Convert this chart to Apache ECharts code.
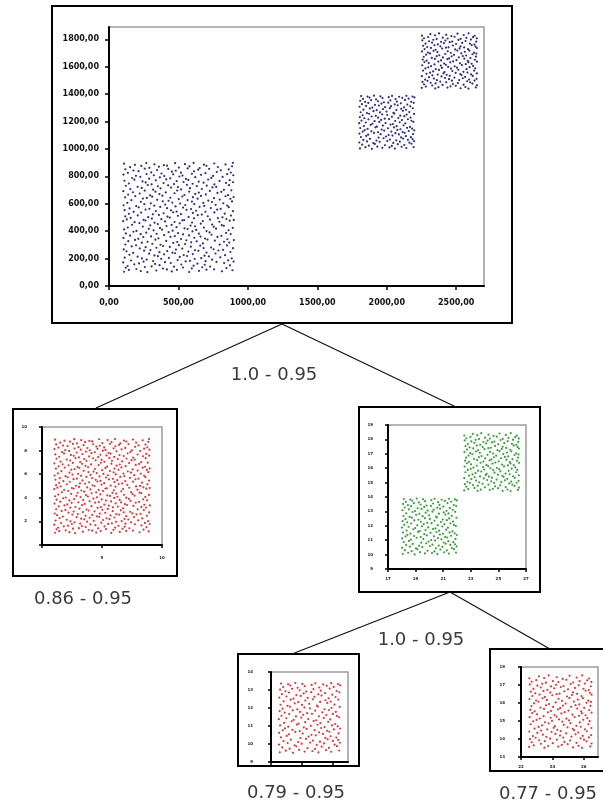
<!DOCTYPE html>
<html>
<head>
<meta charset="utf-8">
<script src="https://cdn.jsdelivr.net/npm/echarts@6/dist/echarts.min.js"></script>
<style>
  html, body { margin: 0; padding: 0; background: #ffffff; }
  #chart { width: 603px; height: 811px; }
</style>
</head>
<body>
<div id="chart"></div>
<script>
// Lower-left block of points (x 100-900, y 100-900)
const clusterA = [
[108,104],[143,117],[229,109],[276,101],[341,113],[452,106],[489,118],[577,102],[648,111],[702,119],[813,107],[889,115],
[121,133],[197,124],[258,138],[389,127],[417,121],[533,135],[596,129],[671,137],[757,122],[846,131],
[134,146],[182,158],[307,143],[364,152],[468,141],[521,157],[609,148],[689,155],[728,142],[871,151],
[102,172],[216,165],[249,178],[332,161],[403,174],[445,168],[552,179],[637,163],[774,176],[829,167],[897,178],
[159,186],[271,193],[318,182],[376,198],[494,189],[583,184],[617,197],[695,181],[742,192],[858,187],
[113,207],[206,214],[237,201],[352,218],[431,205],[509,212],[562,219],[664,203],[719,216],[801,209],[884,202],
[147,228],[289,236],[327,223],[397,231],[476,239],[538,226],[603,233],[688,221],[767,237],[836,225],
[126,253],[174,241],[253,258],[363,247],[419,255],[457,243],[571,251],[644,257],[702,244],[788,259],[874,248],
[106,267],[221,274],[298,262],[341,279],[482,266],[527,273],[619,261],[681,277],[753,268],[821,264],[893,276],
[163,289],[195,297],[264,283],[389,292],[438,285],[503,298],[589,287],[657,294],[735,281],[849,296],
[118,303],[236,316],[312,308],[371,301],[463,314],[548,306],[592,319],[676,311],[797,302],[866,317],
[139,327],[187,336],[278,322],[334,338],[412,329],[491,321],[557,334],[631,326],[709,339],[762,331],[828,323],[899,335],
[104,351],[211,344],[247,357],[356,348],[443,359],[519,343],[614,352],[692,346],[781,358],[852,341],
[152,367],[228,378],[303,362],[397,371],[474,364],[533,377],[576,369],[659,361],[738,374],[809,366],[876,379],
[121,384],[176,396],[268,389],[343,381],[429,393],[497,386],[601,399],[647,382],[724,391],[843,387],
[109,413],[198,402],[286,417],[321,406],[382,411],[458,404],[566,416],[628,409],[702,401],[771,418],[861,407],
[135,427],[243,434],[367,423],[414,438],[486,429],[544,421],[619,436],[683,426],[754,432],[827,439],[891,424],
[166,447],[219,459],[297,443],[351,452],[451,446],[509,457],[587,441],[661,455],[743,448],[812,444],
[102,473],[184,466],[263,478],[328,462],[403,471],[472,467],[528,479],[598,463],[676,474],[795,469],[869,477],
[128,486],[156,497],[249,483],[309,492],[377,488],[438,499],[541,481],[612,494],[727,485],[784,496],[845,489],[898,482],
[117,508],[207,515],[282,502],[359,519],[421,506],[496,512],[573,504],[639,517],[711,509],[817,501],[878,514],
[143,527],[231,536],[316,523],[393,531],[462,538],[518,524],[604,533],[668,521],[759,537],[833,528],
[112,553],[178,541],[263,558],[337,547],[447,552],[487,543],[558,556],[627,549],[694,542],[779,557],[892,546],
[148,566],[214,574],[291,563],[369,577],[418,568],[533,572],[591,561],[652,578],[733,569],[804,563],[862,575],
[105,589],[196,583],[254,597],[326,586],[404,594],[479,581],[549,591],[614,598],[686,584],[768,592],[851,587],
[132,607],[229,614],[301,603],[387,618],[456,609],[512,602],[597,616],[679,606],[742,613],[823,604],[886,617],
[161,626],[244,638],[347,629],[429,622],[502,634],[566,627],[638,637],[715,623],[797,631],[874,636],
[116,647],[189,656],[272,643],[311,652],[384,659],[441,644],[528,653],[604,648],[662,657],[756,641],[839,655],[897,649],
[138,667],[221,675],[296,662],[363,671],[472,677],[543,664],[621,672],[697,668],[781,679],[857,663],
[103,692],[172,684],[257,696],[334,688],[409,683],[491,697],[578,689],[647,682],[726,694],[809,687],[881,698],
[154,707],[236,716],[318,703],[371,712],[447,718],[519,705],[583,714],[668,708],[745,719],[827,702],
[121,731],[206,724],[279,737],[352,728],[426,735],[496,722],[561,738],[632,729],[704,733],[772,723],[864,736],
[143,748],[264,756],[307,742],[393,751],[468,744],[537,759],[602,746],[681,754],[759,741],[842,752],[893,757],
[111,768],[183,776],[241,763],[337,771],[412,778],[487,765],[571,774],[646,762],[714,777],[796,767],[869,772],
[167,788],[226,797],[289,783],[366,792],[441,786],[507,799],[554,781],[621,794],[737,789],[818,796],
[104,813],[194,804],[271,817],[323,808],[398,802],[462,815],[529,806],[597,819],[663,811],[749,803],[851,816],[895,808],
[136,826],[213,838],[304,829],[378,821],[453,834],[518,827],[612,837],[694,823],[776,832],[877,828],
[118,852],[176,843],[257,857],[346,846],[427,854],[481,841],[566,858],[642,849],[721,855],[805,844],[862,851],
[152,867],[233,876],[291,862],[359,871],[418,878],[503,864],[579,873],[653,861],[702,877],[784,868],[886,874],
[109,893],[187,884],[268,897],[327,888],[395,882],[476,896],[547,889],[609,898],[683,885],[758,894],[839,887],[892,899]
];

// Middle block (x 1800-2200, y 1000-1390)
const clusterB = [
[1807,1004],[1846,1013],[1893,1001],[1932,1017],[1968,1008],[2019,1011],[2058,1003],[2107,1016],[2141,1007],[2193,1014],
[1823,1031],[1871,1024],[1914,1037],[1987,1027],[2036,1022],[2079,1035],[2126,1029],[2178,1038],
[1802,1047],[1858,1055],[1903,1043],[1949,1052],[2004,1058],[2047,1044],[2094,1053],[2163,1046],[2197,1057],
[1831,1066],[1879,1074],[1926,1061],[1977,1078],[2022,1069],[2068,1063],[2118,1076],[2152,1067],[2186,1072],
[1814,1087],[1852,1095],[1941,1083],[1994,1091],[2041,1098],[2103,1084],[2137,1093],[2174,1086],
[1803,1112],[1866,1104],[1908,1117],[1956,1108],[2013,1101],[2062,1115],[2087,1106],[2129,1118],[2189,1109],
[1827,1126],[1841,1137],[1889,1129],[1937,1122],[1981,1134],[2033,1127],[2076,1139],[2114,1123],[2158,1131],[2198,1136],
[1809,1153],[1862,1146],[1918,1158],[1963,1142],[2008,1151],[2052,1157],[2098,1144],[2146,1154],[2183,1148],
[1835,1167],[1884,1176],[1929,1163],[1972,1171],[2027,1178],[2071,1166],[2121,1173],[2167,1161],
[1801,1188],[1849,1193],[1897,1184],[1946,1197],[1991,1189],[2044,1182],[2093,1195],[2134,1187],[2192,1198],
[1818,1207],[1868,1216],[1912,1203],[1959,1212],[2016,1218],[2061,1204],[2109,1211],[2152,1217],[2178,1206],
[1806,1233],[1839,1224],[1891,1237],[1938,1228],[1985,1221],[2037,1235],[2083,1226],[2126,1239],[2171,1229],
[1826,1246],[1873,1257],[1921,1242],[1967,1253],[2003,1248],[2054,1258],[2097,1243],[2143,1251],[2196,1256],
[1812,1268],[1857,1262],[1904,1276],[1951,1267],[1998,1273],[2048,1264],[2116,1278],[2162,1269],
[1832,1287],[1878,1296],[1927,1283],[1973,1291],[2022,1298],[2069,1284],[2104,1293],[2138,1286],[2187,1297],
[1804,1308],[1851,1314],[1896,1302],[1943,1317],[1988,1306],[2031,1312],[2078,1319],[2124,1304],[2169,1311],
[1821,1327],[1867,1336],[1915,1322],[1962,1331],[2011,1338],[2057,1326],[2101,1333],[2148,1324],[2194,1337],
[1809,1352],[1844,1343],[1887,1357],[1936,1348],[1979,1341],[2026,1355],[2073,1346],[2131,1358],[2176,1344],
[1829,1366],[1876,1375],[1923,1362],[1969,1371],[2014,1378],[2063,1364],[2112,1373],[2157,1367],[2199,1376],
[1815,1386],[1861,1382],[1908,1389],[1954,1384],[2038,1387],[2089,1381],[2141,1388],[2185,1383]
];

// Upper-right block (x 2250-2650, y 1440-1845)
const clusterC = [
[2252,1446],[2281,1455],[2349,1442],[2372,1451],[2437,1448],[2459,1457],[2531,1443],[2566,1452],[2588,1441],[2641,1449],
[2268,1472],[2327,1463],[2351,1478],[2402,1467],[2476,1474],[2497,1461],[2553,1469],[2617,1477],[2649,1465],
[2257,1489],[2293,1497],[2316,1483],[2385,1492],[2428,1486],[2469,1498],[2512,1481],[2579,1494],[2601,1486],[2632,1499],
[2276,1506],[2339,1514],[2361,1502],[2419,1518],[2448,1509],[2521,1503],[2547,1516],[2593,1507],[2646,1512],
[2253,1531],[2304,1524],[2328,1537],[2394,1529],[2453,1534],[2487,1521],[2538,1539],[2564,1526],[2619,1533],
[2286,1548],[2312,1557],[2367,1543],[2408,1552],[2431,1541],[2496,1555],[2529,1547],[2581,1558],[2607,1544],[2648,1551],
[2261,1572],[2334,1566],[2376,1577],[2415,1561],[2472,1569],[2515,1578],[2552,1563],[2629,1572],
[2278,1588],[2299,1596],[2353,1583],[2397,1591],[2442,1599],[2463,1586],[2506,1593],[2574,1582],[2596,1597],[2637,1589],
[2255,1611],[2319,1604],[2344,1617],[2389,1608],[2426,1614],[2489,1603],[2541,1612],[2569,1619],[2622,1606],
[2271,1634],[2302,1627],[2371,1638],[2413,1623],[2457,1632],[2478,1639],[2527,1625],[2588,1633],[2611,1622],[2649,1637],
[2259,1652],[2287,1644],[2346,1657],[2391,1646],[2436,1655],[2502,1648],[2558,1659],[2583,1643],[2634,1651],
[2266,1673],[2324,1664],[2359,1677],[2404,1668],[2449,1661],[2467,1676],[2519,1669],[2547,1678],[2602,1663],[2642,1674],
[2283,1688],[2311,1697],[2378,1684],[2421,1693],[2484,1687],[2536,1698],[2571,1682],[2617,1691],[2645,1696],
[2254,1712],[2296,1704],[2337,1716],[2365,1707],[2439,1713],[2461,1702],[2508,1718],[2562,1709],[2594,1717],[2628,1703],
[2272,1729],[2318,1737],[2352,1724],[2399,1733],[2427,1739],[2493,1726],[2524,1734],[2585,1728],[2649,1736],
[2262,1753],[2291,1744],[2343,1757],[2386,1748],[2445,1742],[2476,1755],[2531,1749],[2557,1741],[2611,1758],[2639,1747],
[2279,1768],[2326,1776],[2368,1763],[2411,1772],[2453,1779],[2499,1766],[2543,1774],[2598,1769],[2631,1762],
[2256,1793],[2304,1786],[2335,1797],[2391,1782],[2422,1791],[2471,1784],[2516,1796],[2567,1788],[2606,1798],[2644,1783],
[2268,1808],[2297,1817],[2359,1803],[2403,1812],[2438,1806],[2488,1819],[2532,1804],[2573,1811],[2621,1816],[2648,1807],
[2253,1827],[2314,1838],[2347,1829],[2376,1843],[2428,1833],[2465,1824],[2509,1841],[2554,1831],[2589,1844],[2633,1826]
];

// Axis ranges and tick values for each panel
const mainXRange = [0, 2700];
const mainYRange = [0, 1890];
const mainXTicks = [0, 500, 1000, 1500, 2000, 2500];
const mainYTicks = [0, 200, 400, 600, 800, 1000, 1200, 1400, 1600, 1800];

const leftXRange = [0, 1000];
const leftYRange = [0, 1000];
const leftXTicks = [0, 500, 1000];
const leftYTicks = [0, 200, 400, 600, 800, 1000];

const rightXRange = [1700, 2700];
const rightYRange = [900, 1900];
const rightXTicks = [1700, 1900, 2100, 2300, 2500, 2700];
const rightYTicks = [900, 1000, 1100, 1200, 1300, 1400, 1500, 1600, 1700, 1800, 1900];

const leafBXRange = [1750, 2250];
const leafBYRange = [950, 1450];
const leafBXTicks = [1750, 1950, 2150];
const leafBYTicks = [950, 1050, 1150, 1250, 1350, 1450];

const leafCXRange = [2200, 2690];
const leafCYRange = [1390, 1890];
const leafCXTicks = [2200, 2400, 2600];
const leafCYTicks = [1390, 1490, 1590, 1690, 1790, 1890];

// Split labels under each node / edge
const splitLabels = ['1.0 - 0.95', '0.86 - 0.95', '1.0 - 0.95', '0.79 - 0.95', '0.77 - 0.95'];

const NAVY = '#2f2f7a';
const RED = '#d43c3c';
const GREEN = '#3f9d3f';

// Panel layout: frame box, plot area, data sets
const panels = [
  { frame: [52, 6, 460, 317], plot: [109, 27, 375, 259], xr: mainXRange, yr: mainYRange,
    xt: mainXTicks, yt: mainYTicks, sets: [[clusterA, NAVY], [clusterB, NAVY], [clusterC, NAVY]],
    big: true, xLab: true, hideMin: false, yMargin: 10, xMargin: 13 },
  { frame: [13, 409, 164, 167], plot: [42, 427, 120, 118], xr: leftXRange, yr: leftYRange,
    xt: leftXTicks, yt: leftYTicks, sets: [[clusterA, RED]],
    xLab: true, hideMin: true, yMargin: 15, xMargin: 11 },
  { frame: [359, 407, 181, 185], plot: [388, 425, 138, 144], xr: rightXRange, yr: rightYRange,
    xt: rightXTicks, yt: rightYTicks, sets: [[clusterB, GREEN], [clusterC, GREEN]],
    xLab: true, hideMin: false, yMargin: 15, xMargin: 8 },
  { frame: [238, 654, 121, 112], plot: [271, 672, 77, 90], xr: leafBXRange, yr: leafBYRange,
    xt: leafBXTicks, yt: leafBYTicks, sets: [[clusterB, RED]],
    xLab: false, hideMin: false, yMargin: 18, xMargin: 7 },
  { frame: [490, 649, 120, 122], plot: [521, 667, 77, 90], xr: leafCXRange, yr: leafCYRange,
    xt: leafCXTicks, yt: leafCYTicks, sets: [[clusterC, RED]],
    xLab: true, hideMin: false, yMargin: 16, xMargin: 8 }
];

// Tree edges and label anchors
const edges = [
  [[282, 324], [96, 408]],
  [[282, 324], [456, 407]],
  [[450, 592], [292, 654]],
  [[450, 592], [550, 649]]
];
const labelAnchors = [[274, 375], [83, 599], [421, 640], [296, 793], [548, 794]];

const grids = [], xAxes = [], yAxes = [], series = [], graphics = [];

function bigLabel(v) { return v + ',00'; }
function tinyLabel(v) { return String(Math.floor(v / 100)); }

panels.forEach(function (p, i) {
  grids.push({
    left: p.plot[0], top: p.plot[1], width: p.plot[2], height: p.plot[3],
    show: true, borderColor: '#9c9c9c', borderWidth: 1.5, backgroundColor: '#ffffff'
  });
  const labelStyle = p.big
    ? { fontFamily: 'DejaVu Sans', fontWeight: 'bold', fontSize: 8, color: '#111111' }
    : { fontFamily: 'DejaVu Sans', fontWeight: 'bold', fontSize: 4, color: '#222222' };
  const fmt = p.big ? bigLabel : tinyLabel;
  const xLabVals = p.hideMin ? p.xt.slice(1) : p.xt;
  const yLabVals = p.hideMin ? p.yt.slice(1) : p.yt;
  xAxes.push({
    type: 'value', gridIndex: i, min: p.xr[0], max: p.xr[1],
    axisLine: { show: true, onZero: false, lineStyle: { color: '#000000', width: 2 } },
    axisTick: { show: true, customValues: p.xt, length: p.big ? 4 : 3, lineStyle: { color: '#000000', width: 1.5 } },
    axisLabel: Object.assign({ show: p.xLab, customValues: xLabVals, formatter: fmt, margin: p.xMargin,
      showMinLabel: true, showMaxLabel: true }, labelStyle),
    splitLine: { show: false }
  });
  yAxes.push({
    type: 'value', gridIndex: i, min: p.yr[0], max: p.yr[1],
    axisLine: { show: true, onZero: false, lineStyle: { color: '#000000', width: 2 } },
    axisTick: { show: true, customValues: p.yt, length: p.big ? 4 : 3, lineStyle: { color: '#000000', width: 1.5 } },
    axisLabel: Object.assign({ show: true, customValues: yLabVals, formatter: fmt, margin: p.yMargin,
      showMinLabel: true, showMaxLabel: true }, labelStyle),
    splitLine: { show: false }
  });
  p.sets.forEach(function (s) {
    series.push({
      type: 'scatter', xAxisIndex: i, yAxisIndex: i, data: s[0],
      symbol: 'circle', symbolSize: 2.2, itemStyle: { color: s[1], opacity: 1 },
      silent: true, animation: false
    });
  });
  graphics.push({
    type: 'rect', shape: { x: p.frame[0], y: p.frame[1], width: p.frame[2], height: p.frame[3] },
    style: { fill: 'none', stroke: '#000000', lineWidth: 2 }, z: 100
  });
});

edges.forEach(function (e) {
  graphics.push({
    type: 'line', shape: { x1: e[0][0], y1: e[0][1], x2: e[1][0], y2: e[1][1] },
    style: { stroke: '#111111', lineWidth: 1.2 }, z: 100
  });
});

splitLabels.forEach(function (t, i) {
  graphics.push({
    type: 'text', x: labelAnchors[i][0], y: labelAnchors[i][1],
    style: { text: t, align: 'center', verticalAlign: 'middle',
      font: '18px "DejaVu Sans"', fill: '#3a3a3a' }, z: 100
  });
});

const chart = echarts.init(document.getElementById('chart'), null, { renderer: 'canvas' });
chart.setOption({
  animation: false,
  backgroundColor: '#ffffff',
  grid: grids,
  xAxis: xAxes,
  yAxis: yAxes,
  series: series,
  graphic: graphics
});
</script>
</body>
</html>
